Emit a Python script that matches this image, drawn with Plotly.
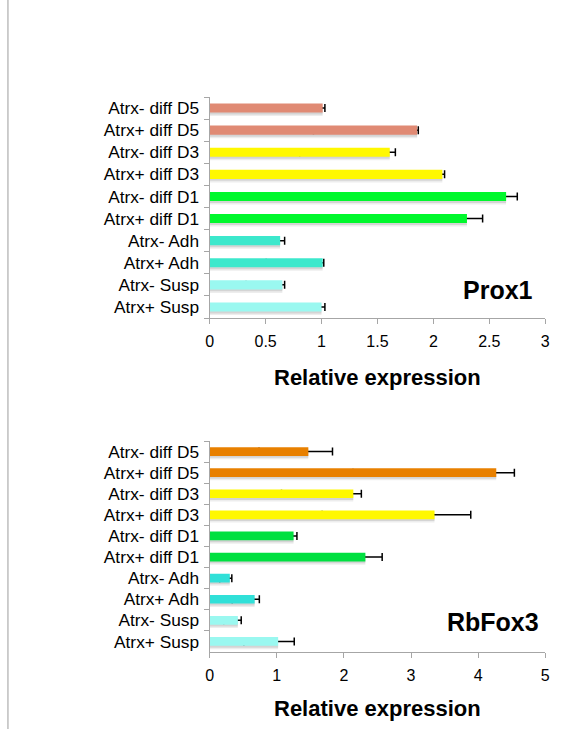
import plotly.graph_objects as go

categories = ["Atrx+ Susp", "Atrx- Susp", "Atrx+ Adh", "Atrx- Adh",
              "Atrx+ diff D1", "Atrx- diff D1", "Atrx+ diff D3", "Atrx- diff D3",
              "Atrx+ diff D5", "Atrx- diff D5"]

prox1_values = [1.00, 0.65, 1.01, 0.63, 2.30, 2.65, 2.08, 1.61, 1.855, 1.01]
prox1_errors = [0.03, 0.02, 0.01, 0.04, 0.14, 0.10, 0.02, 0.05, 0.01, 0.02]
prox1_colors = ["#9AF8F0", "#9AF8F0", "#3CE8CC", "#3CE8CC", "#00F82C", "#00F82C",
                "#FFF800", "#FFF800", "#E08A74", "#E08A74"]

rbfox3_values = [1.02, 0.42, 0.67, 0.30, 2.32, 1.25, 3.35, 2.14, 4.27, 1.47]
rbfox3_errors = [0.24, 0.05, 0.07, 0.03, 0.25, 0.05, 0.54, 0.12, 0.27, 0.36]
rbfox3_colors = ["#9AF8F0", "#9AF8F0", "#30E0D8", "#30E0D8", "#00E040", "#00E040",
                 "#FFF800", "#FFF800", "#E88000", "#E88000"]

prox1_ticks = [0, 0.5, 1, 1.5, 2, 2.5, 3]
rbfox3_ticks = [0, 1, 2, 3, 4, 5]

W, H = 566, 729
FONT = "Liberation Sans, Arial, sans-serif"
BW = 0.41  # bar thickness in category units

fig = go.Figure()


def add_panel(values, errors, colors, xa, ya):
    # soft drop shadow under each bar
    for shift, alpha in ((0.16, 0.07), (0.09, 0.10)):
        fig.add_trace(go.Bar(
            y=categories, x=values, orientation="h", width=BW, offset=-BW / 2 - shift,
            marker=dict(color=f"rgba(0,0,0,{alpha})", line=dict(width=0)),
            xaxis=xa, yaxis=ya, showlegend=False, hoverinfo="skip",
        ))
    # carrier of the one-sided error bars (its lower part is hidden by the bar)
    fig.add_trace(go.Bar(
        y=categories, x=values, orientation="h", width=BW,
        marker=dict(color="rgba(0,0,0,0)", line=dict(width=0)),
        error_x=dict(type="data", array=errors, arrayminus=[v / 2 for v in values],
                     symmetric=False, color="black", thickness=1.5, width=4),
        xaxis=xa, yaxis=ya, showlegend=False, hoverinfo="skip",
    ))
    # the visible bars
    fig.add_trace(go.Bar(
        y=categories, x=values, orientation="h", width=BW,
        marker=dict(color=colors, line=dict(width=0)),
        xaxis=xa, yaxis=ya, showlegend=False,
    ))


add_panel(prox1_values, prox1_errors, prox1_colors, "x", "y")
add_panel(rbfox3_values, rbfox3_errors, rbfox3_colors, "x2", "y2")

xdom = [209 / W, 550 / W]
ydom1 = [1 - 318 / H, 1 - 97 / H]
ydom2 = [1 - 652 / H, 1 - 441 / H]

axis_common = dict(
    showline=True, linecolor="#A6A6A6", linewidth=1.3,
    ticks="outside", tickcolor="#A6A6A6", ticklen=5, tickwidth=1.3,
    showgrid=False, zeroline=False,
    tickfont=dict(family=FONT, size=16, color="black"),
)
ycat = dict(type="category", categoryorder="array", categoryarray=categories,
            tickson="boundaries", ticklabelstandoff=6)
yfont = dict(family=FONT, size=17.3, color="black")

fig.update_layout(
    width=W, height=H,
    margin=dict(l=0, r=0, t=0, b=0),
    paper_bgcolor="white", plot_bgcolor="white",
    barmode="overlay",
    font=dict(family=FONT, color="black"),
    xaxis=dict(domain=xdom, anchor="y", range=[0, 3], tickvals=prox1_ticks,
               ticktext=[str(t) for t in prox1_ticks], ticklabelstandoff=4, **axis_common),
    yaxis=dict(domain=ydom1, anchor="x", **ycat, **{**axis_common, "tickfont": yfont}),
    xaxis2=dict(domain=xdom, anchor="y2", range=[0, 5], tickvals=rbfox3_ticks,
                ticktext=[str(t) for t in rbfox3_ticks], ticklabelstandoff=4, **axis_common),
    yaxis2=dict(domain=ydom2, anchor="x2", **ycat, **{**axis_common, "tickfont": yfont}),
    shapes=[dict(type="line", xref="paper", yref="paper", x0=4 / W, x1=4 / W, y0=0, y1=1,
                 line=dict(color="#BDBDBD", width=1.5))],
    annotations=[
        dict(text="<b>Relative expression</b>", xref="paper", yref="paper",
             x=379.5 / W, y=1 - 377 / H, showarrow=False, xanchor="center", yanchor="middle",
             font=dict(family=FONT, size=22, color="black")),
        dict(text="<b>Relative expression</b>", xref="paper", yref="paper",
             x=379.5 / W, y=1 - 708 / H, showarrow=False, xanchor="center", yanchor="middle",
             font=dict(family=FONT, size=22, color="black")),
        dict(text="<b>Prox1</b>", xref="paper", yref="paper",
             x=502 / W, y=1 - 290 / H, showarrow=False, xanchor="center", yanchor="middle",
             font=dict(family=FONT, size=25, color="black")),
        dict(text="<b>RbFox3</b>", xref="paper", yref="paper",
             x=497 / W, y=1 - 622 / H, showarrow=False, xanchor="center", yanchor="middle",
             font=dict(family=FONT, size=25, color="black")),
    ],
)

fig.write_html("out.html")
